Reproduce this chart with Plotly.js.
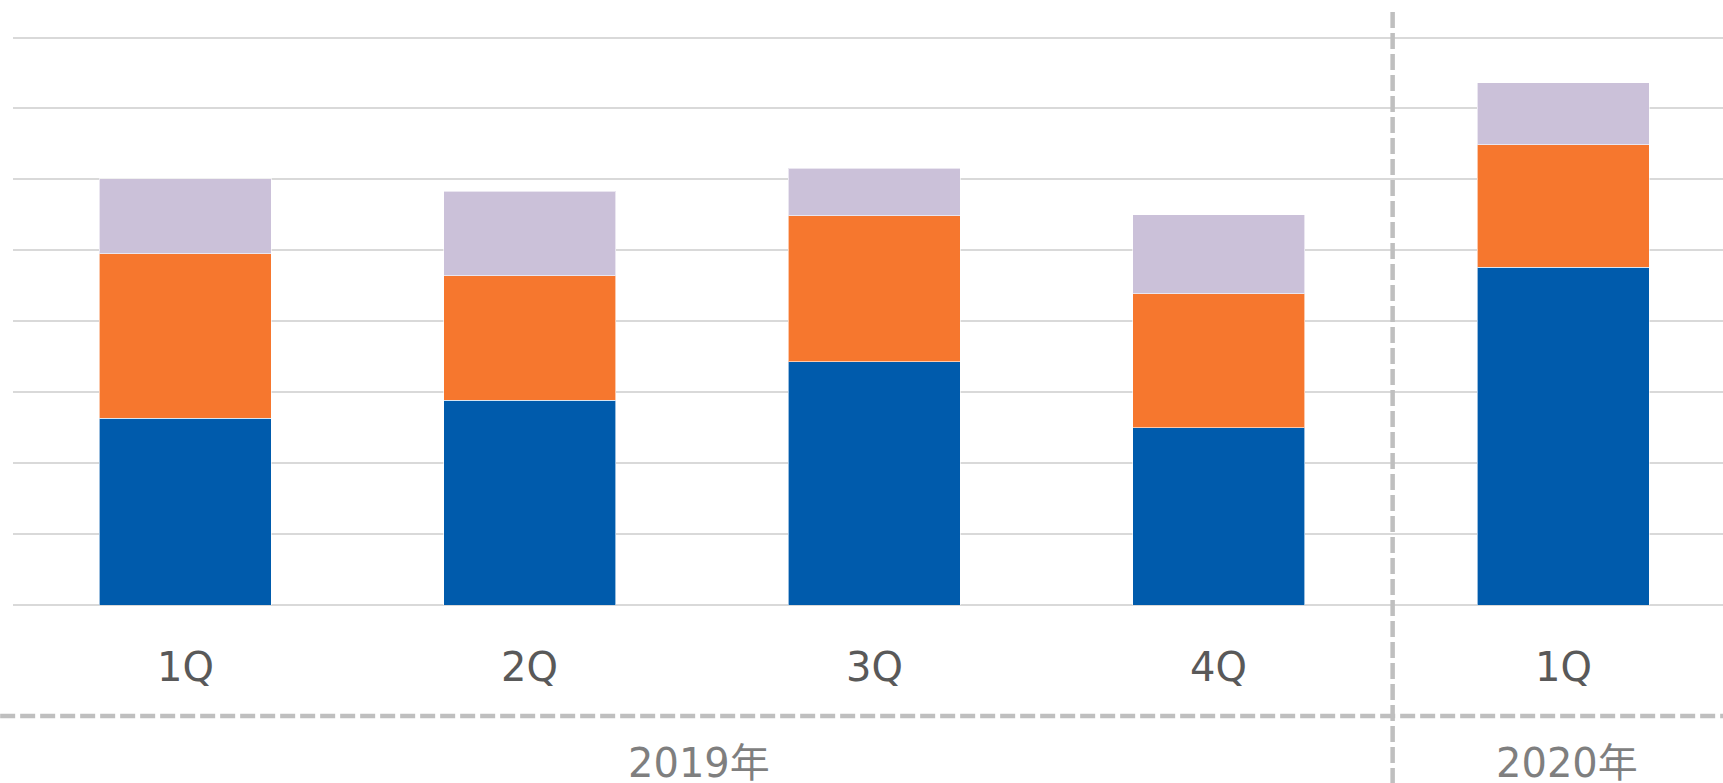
<!DOCTYPE html>
<html>
<head>
<meta charset="utf-8">
<script src="https://cdn.plot.ly/plotly-3.0.1.min.js"></script>
<style>html,body{margin:0;padding:0;background:#fff;}#chart{width:1723px;height:783px;}</style>
</head>
<body>
<div id="chart"></div>
<script>
// Data (in gridline units; the chart has no value axis labels)
const quarters = ["1Q", "2Q", "3Q", "4Q", "1Q"];
const xPositions = [0, 1, 2, 3, 4];
const seriesBlue = [2.63, 2.89, 3.43, 2.50, 4.76];
const seriesOrange = [2.32, 1.75, 2.06, 1.89, 1.73];
const seriesPurple = [1.06, 1.19, 0.67, 1.11, 0.87];
const years = ["2019年", "2020年"];
const yearCenters = [1.49, 4.01];
const dividerX = 3.505;

const FONT = "DejaVu Sans, Verdana, 'Noto Sans CJK JP', sans-serif";

const mk = (y, color) => ({
  type: "bar", x: xPositions, y: y, width: 0.5,
  marker: {color: color, line: {color: "rgba(255,255,255,0.6)", width: 1}},
  hoverinfo: "skip", showlegend: false
});

const data = [
  mk(seriesBlue, "#005bac"),
  mk(seriesOrange, "#f6772e"),
  mk(seriesPurple, "#cbc1d9")
];

// plot geometry: 71 px per gridline unit, baseline at y=605.5 px
const yTop = 8.05;
const unitPx = 71;
const plotH = yTop * unitPx;
const marginB = 783 - 605.5;
const marginT = 783 - marginB - plotH;
const py = px => (605.5 - px) / plotH;

const annotations = [];
quarters.forEach((q, i) => annotations.push({
  x: xPositions[i], xref: "x", y: py(668), yref: "paper",
  text: q, showarrow: false, xanchor: "center", yanchor: "middle",
  font: {family: FONT, size: 40, color: "#595959"}
}));
years.forEach((t, i) => annotations.push({
  x: yearCenters[i], xref: "x", y: py(764), yref: "paper",
  text: t, showarrow: false, xanchor: "center", yanchor: "middle",
  font: {family: FONT, size: 40, color: "#7f7f7f"}
}));

const layout = {
  width: 1723, height: 783,
  margin: {l: 12.75, r: 0, t: marginT, b: marginB, pad: 0},
  paper_bgcolor: "#ffffff", plot_bgcolor: "#ffffff",
  barmode: "stack",
  xaxis: {range: [-0.5, 4.464], showticklabels: false, ticks: "", showgrid: false,
          zeroline: false, showline: false, fixedrange: true},
  yaxis: {range: [0, yTop], dtick: 1, tick0: 0, showticklabels: false, ticks: "",
          showgrid: true, gridcolor: "#d9d9d9", gridwidth: 2,
          zeroline: true, zerolinecolor: "#d9d9d9", zerolinewidth: 2, showline: false, fixedrange: true},
  annotations: annotations,
  shapes: [
    {type: "line", xref: "paper", yref: "paper", x0: -0.0075, x1: 1, y0: py(716.7), y1: py(716.7),
     line: {color: "#bfbfbf", width: 4.5, dash: "15px,5px"}, layer: "above"},
    {type: "line", xref: "x", yref: "paper", x0: dividerX, x1: dividerX, y0: py(12), y1: py(790),
     line: {color: "#bfbfbf", width: 4.5, dash: "16px,5px"}, layer: "above"}
  ],
  font: {family: FONT}
};

Plotly.newPlot("chart", data, layout, {staticPlot: true, displayModeBar: false});
</script>
</body>
</html>
